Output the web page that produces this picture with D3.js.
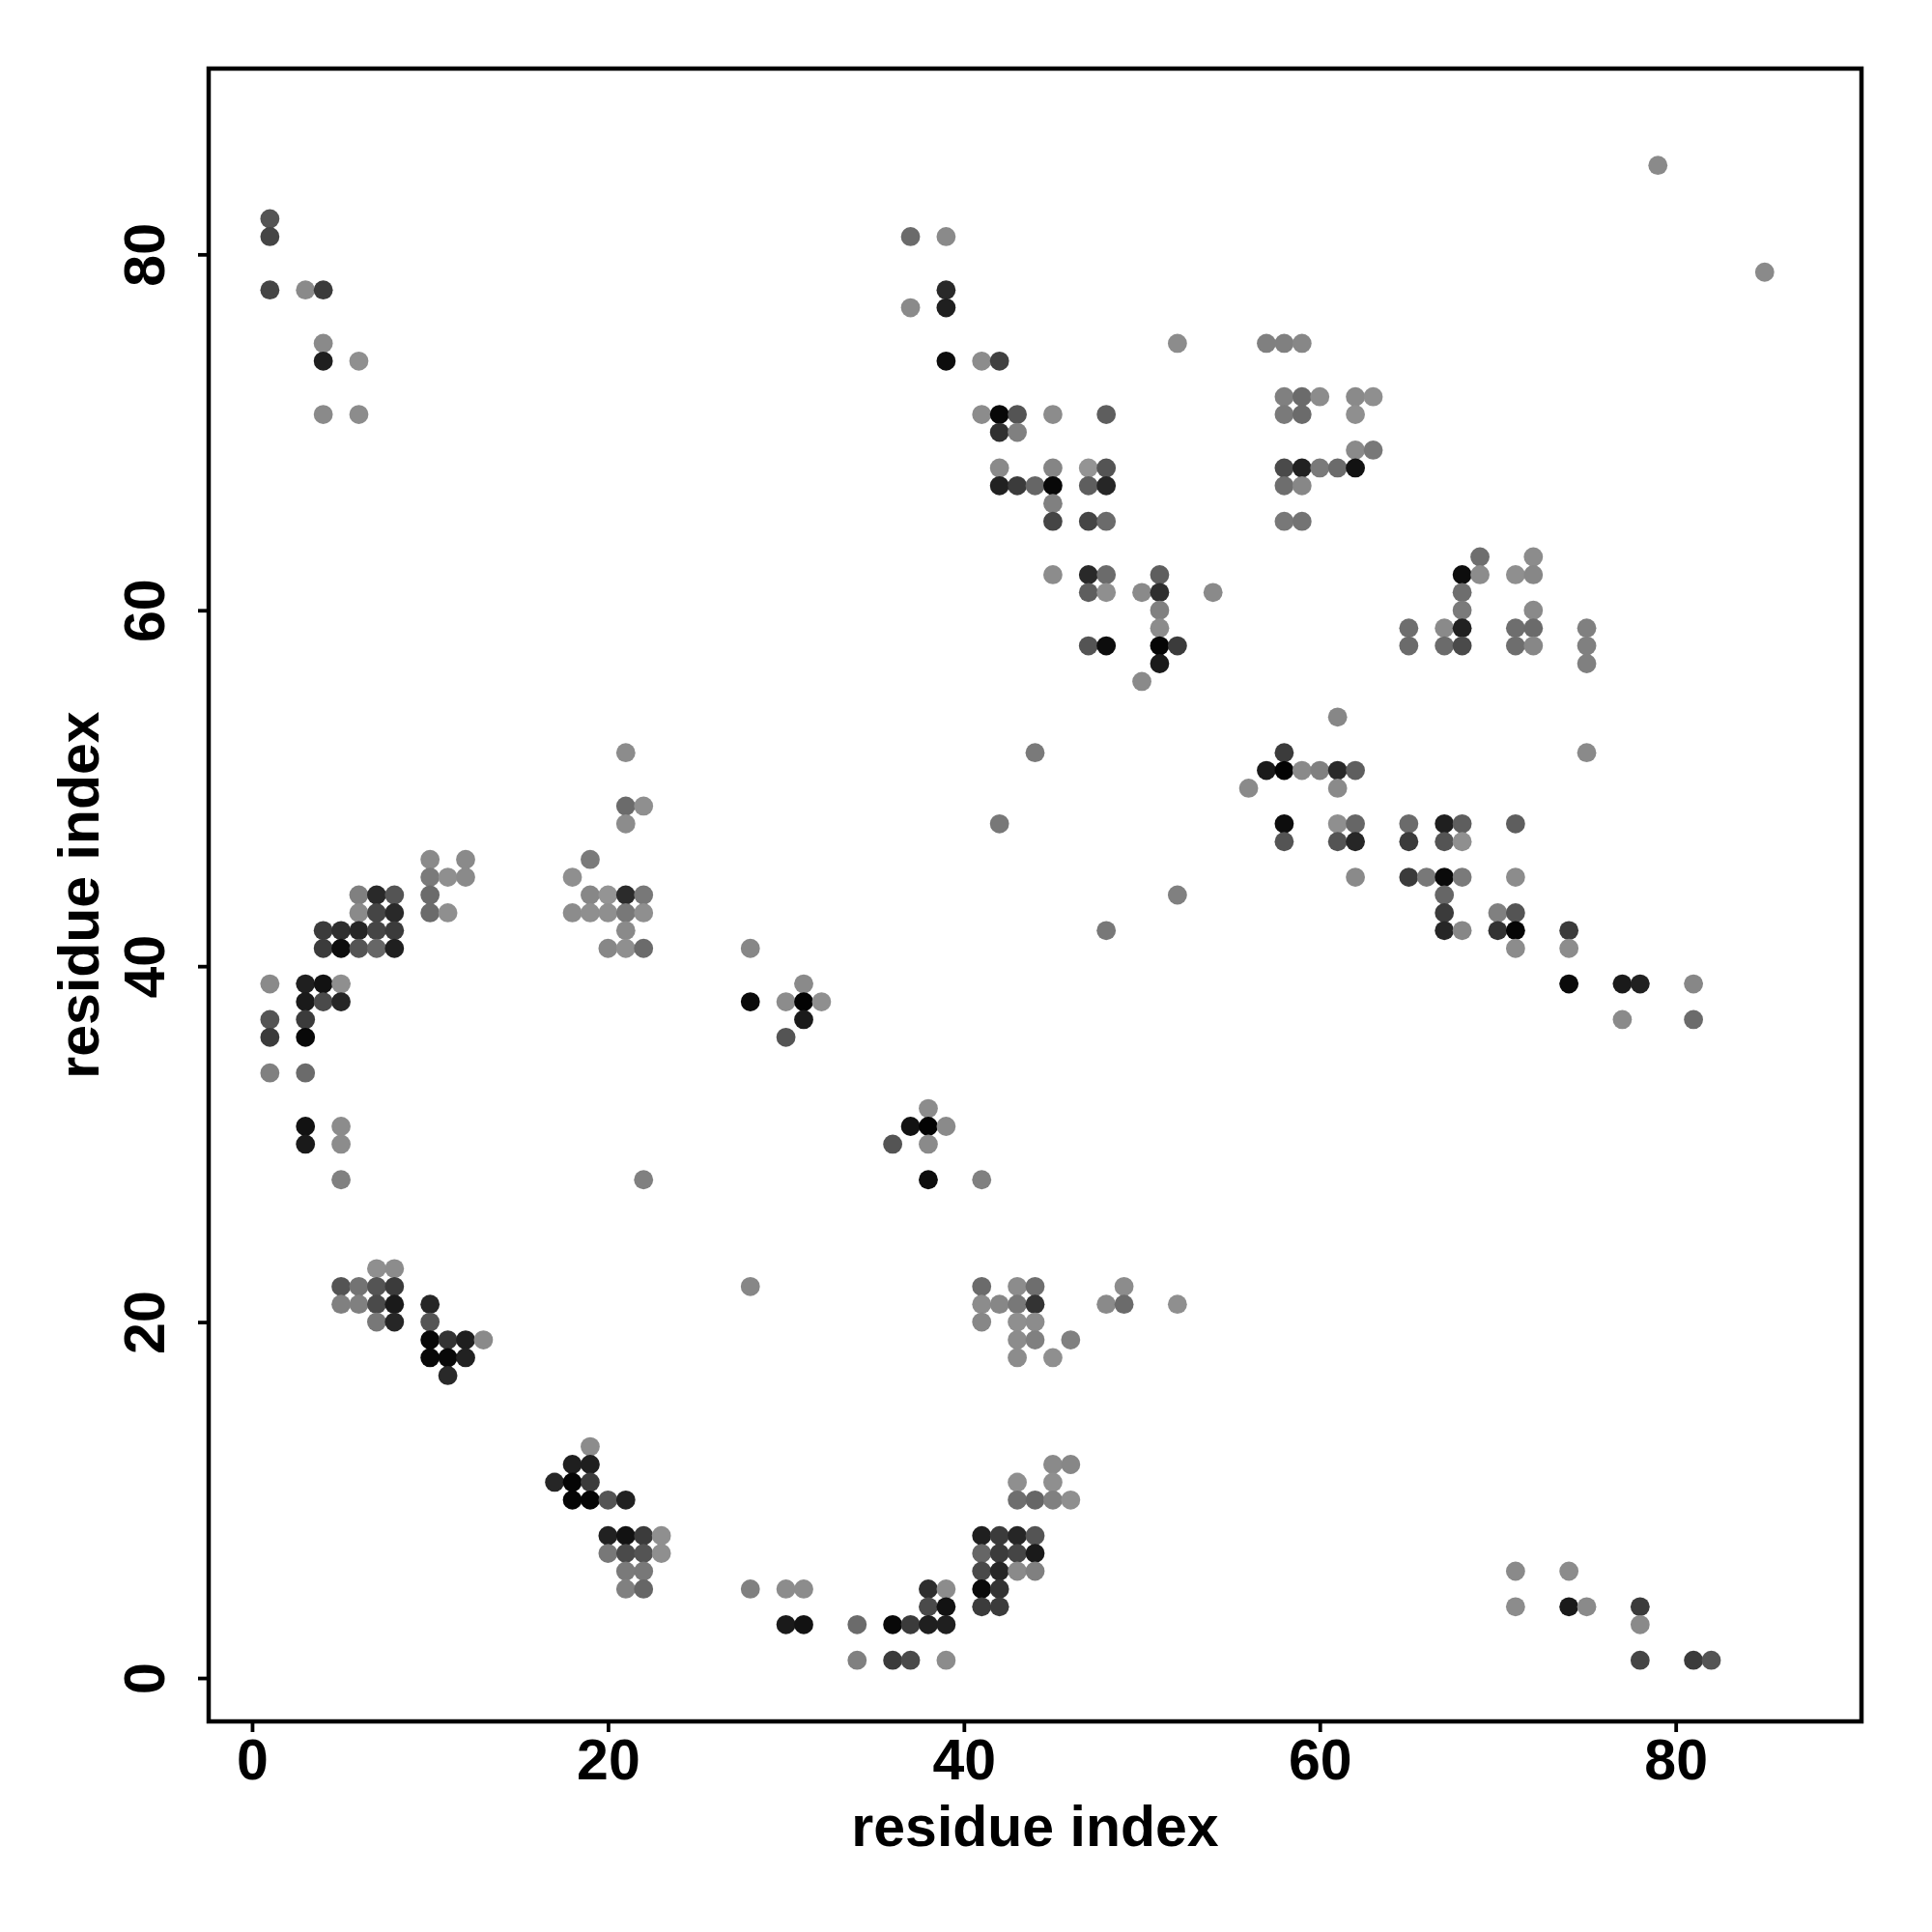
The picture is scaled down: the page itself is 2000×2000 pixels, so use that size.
<!DOCTYPE html>
<html><head><meta charset="utf-8">
<script src="https://cdn.jsdelivr.net/npm/d3@7"></script>
<style>body{margin:0;background:#fff}</style>
</head><body>
<script>
// ---- data: contact map, grouped by row (residue index on y) ----
const rowY = [85,82,81,79,78,77,75,74,72,71,70,69,68,67,66,65,63,62,61,60,59,58,57,56,54,52,51,50,49,48,47,46,45,44,43,42,41,39,38,37,36,34,32,31,30,28,23,22,21,20,19,18,17,13,12,11,10,8,7,6,5,4,3,1];
const rowX = [
[79],[1],[1,37,39],[85],[1,3,4,39],[37,39],[4,52,57,58,59],[4,6,39,41,42],
[58,59,60,62,63],[4,6,41,42,43,45,48,58,59,62],[42,43],[62,63],
[42,45,47,48,58,59,60,61,62],[42,43,44,45,47,48,58,59],[45],[45,47,48,58,59],
[69,72],[45,47,48,51,68,69,71,72],[47,48,50,51,54,68],[51,68,72],
[51,65,67,68,71,72,75],[47,48,51,52,65,67,68,71,72,75],[51,75],[50],[61],
[21,44,58,75],[57,58,59,60,61,62],[56,61],[21,22],[21,42,58,61,62,65,67,68,71],
[58,61,62,65,67,68],[10,12,19],[10,11,12,18,62,65,66,67,68,71],
[6,7,8,10,19,20,21,22,52,67],[6,7,8,10,11,18,19,20,21,22,67,70,71],
[4,5,6,7,8,21,48,67,68,70,71,74],[4,5,6,7,8,20,21,22,28,71,74],
[1,3,4,5,31,74,77,78,81],[3,4,5,28,30,31,32],[1,3,31,77,81],[1,3,30],[1,3],[38],
[3,5,37,38,39],[3,5,36,38],[5,22,38,41],[7,8],[5,6,7,8,28,41,43,44,49],
[5,6,7,8,10,41,42,43,44,48,49,52],[7,8,10,41,43,44],[10,11,12,13,43,44,46],
[10,11,12,43,45],[11],[19],[18,19,45,46],[17,18,19,43,45],[18,19,20,21,43,44,45,46],
[20,21,22,23,41,42,43,44],[20,21,22,23,41,42,43,44],[21,22,41,42,43,44,71,74],
[21,22,28,30,31,38,39,41,42],[38,39,41,42,71,74,75,78],[30,31,34,36,37,38,39,78],
[34,36,37,39,78,81,82]
];
const rowP = [
[.46],[.67],[.73,.58,.46],[.46],[.73,.46,.77,.84],[.46,.88],[.46,.45,.5,.5,.47],[.88,.44,.95,.45,.75],
[.5,.58,.45,.46,.44],[.46,.45,.45,.97,.67,.45,.63,.52,.58,.44],[.81,.5],[.46,.53],
[.46,.48,.42,.67,.71,.87,.52,.58,.93],[.87,.77,.6,.97,.63,.85,.57,.47],[.5],[.73,.73,.58,.53,.55],
[.57,.45],[.45,.84,.58,.63,.95,.45,.44,.47],[.63,.44,.46,.82,.46,.57],[.5,.52,.46],
[.45,.57,.46,.87,.57,.58,.5],[.67,.95,.98,.77,.58,.58,.71,.57,.47,.5],[.9,.5],[.46],[.47],
[.45,.52,.77,.46],[.9,.99,.46,.5,.84,.63],[.46,.46],[.58,.44],[.45,.53,.95,.44,.6,.58,.88,.63,.63],
[.67,.67,.85,.77,.67,.44],[.46,.46,.52],[.52,.44,.46,.44,.46,.77,.53,.96,.52,.45],
[.5,.84,.67,.58,.47,.42,.83,.53,.5,.6],[.46,.73,.84,.58,.44,.45,.44,.44,.53,.44,.77,.5,.67],
[.77,.82,.85,.73,.77,.46,.53,.85,.47,.8,.98,.77],[.77,.95,.67,.6,.88,.47,.44,.58,.47,.45,.45],
[.46,.88,.93,.44,.46,.96,.9,.87,.47],[.9,.71,.85,.96,.45,.99,.44],[.67,.77,.9,.46,.58],[.77,.97,.67],[.5,.58],[.45],
[.93,.45,.93,.99,.46],[.9,.45,.67,.46],[.5,.5,.95,.5],[.44,.45],[.67,.55,.67,.77,.47,.58,.45,.57,.45],
[.5,.5,.71,.9,.85,.45,.47,.53,.8,.46,.58,.44],[.53,.85,.67,.47,.44,.45],[.97,.8,.88,.46,.45,.5,.5],
[.97,.97,.87,.45,.44],[.84],[.45],[.88,.88,.46,.47],[.85,.98,.77,.44,.44],[.98,.98,.67,.87,.57,.6,.5,.44],
[.87,.93,.77,.44,.88,.77,.85,.67],[.53,.71,.67,.44,.6,.77,.73,.9],[.52,.53,.71,.85,.46,.5,.46,.45],
[.5,.6,.5,.45,.45,.82,.45,.96,.8],[.71,.93,.77,.77,.45,.9,.46,.77],[.9,.93,.58,.97,.77,.88,.88,.46],
[.5,.77,.71,.45,.73,.77,.67]
];
const tickValues = [0, 20, 40, 60, 80];
const xTitle = "residue index";
const yTitle = "residue index";

// ---- build point list ----
const points = [];
rowY.forEach((yv, r) => {
  (rowX[r] || []).forEach((xv, k) => points.push({x: xv, y: yv, p: rowP[r][k]}));
});

const W = 2000, H = 2000;
const box = {left: 216, right: 1927, top: 71, bottom: 1782};
const domain = [-2.44, 90.44];
const x = d3.scaleLinear().domain(domain).range([box.left, box.right]);
const y = d3.scaleLinear().domain(domain).range([box.bottom, box.top]);
const shade = d3.scaleLinear().domain([0, 1]).range(["#ffffff", "#000000"]);
const FONT = "'Liberation Sans', Arial, Helvetica, sans-serif";

const svg = d3.select("body").append("svg").attr("width", W).attr("height", H)
  .style("font-family", FONT);
svg.append("rect").attr("width", W).attr("height", H).attr("fill", "#fff");

// points
svg.append("g").selectAll("circle").data(points).join("circle")
  .attr("cx", d => x(d.x)).attr("cy", d => y(d.y)).attr("r", 9.9)
  .attr("fill", d => shade(d.p));

// box
svg.append("rect").attr("x", box.left).attr("y", box.top)
  .attr("width", box.right - box.left).attr("height", box.bottom - box.top)
  .attr("fill", "none").attr("stroke", "#000").attr("stroke-width", 4.5);

// x axis
const gx = svg.append("g").attr("transform", `translate(0,${box.bottom})`)
  .call(d3.axisBottom(x).tickValues(tickValues).tickSize(11).tickPadding(7).tickFormat(d3.format("d")));
gx.select(".domain").remove();
gx.selectAll(".tick line").attr("stroke", "#000").attr("stroke-width", 3.8);
gx.selectAll(".tick text").attr("fill", "#000").style("font-size", "59px").style("font-weight", "bold")
  .style("font-family", FONT);

// y axis
const gy = svg.append("g").attr("transform", `translate(${box.left},0)`)
  .call(d3.axisLeft(y).tickValues(tickValues).tickSize(11).tickFormat(d3.format("d")));
gy.select(".domain").remove();
gy.selectAll(".tick line").attr("stroke", "#000").attr("stroke-width", 3.8);
gy.selectAll(".tick text").attr("fill", "#000").style("font-size", "59px").style("font-weight", "bold")
  .style("font-family", FONT)
  .attr("x", 0).attr("y", -46).attr("dy", 0).attr("text-anchor", "middle")
  .attr("transform", "rotate(-90)");

// titles
svg.append("text").attr("x", (box.left + box.right) / 2).attr("y", 1911)
  .attr("text-anchor", "middle").style("font-size", "59px").style("font-weight", "bold")
  .text(xTitle);
svg.append("text").attr("transform", `translate(102,${(box.top + box.bottom) / 2}) rotate(-90)`)
  .attr("text-anchor", "middle").style("font-size", "59px").style("font-weight", "bold")
  .text(yTitle);
</script>
</body></html>
